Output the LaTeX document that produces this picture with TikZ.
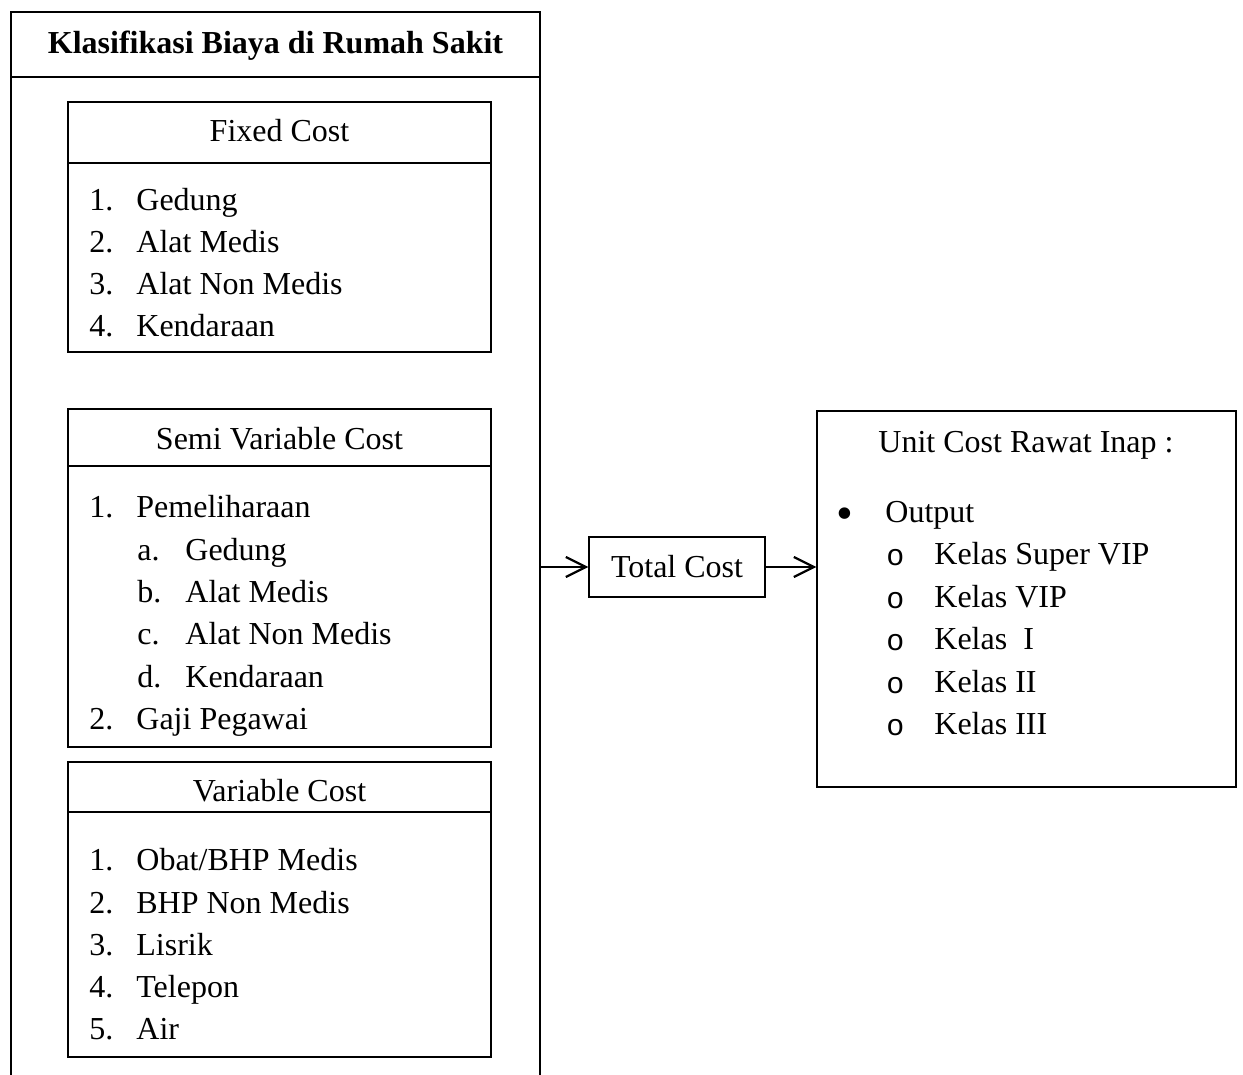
\documentclass[tikz,border=0pt]{standalone}
\usepackage{fontspec}
\setmainfont{Liberation Serif}
\newfontfamily\monofnt{Liberation Mono}
\usetikzlibrary{arrows.meta}
\newcommand\myfs{\fontsize{16pt}{19pt}\selectfont}
\begin{document}
\begin{tikzpicture}[x=0.5pt,y=-0.5pt,
  every node/.style={font=\myfs, inner sep=0pt},
  box/.style={draw, line width=0.75pt},
  item/.style={anchor=base west},
  ttl/.style={anchor=base},
  conn/.style={line width=1pt, -{Straight Barb[length=10pt,width=10pt,line width=1.1pt]}},
  sep/.style={line width=0.9pt},
  sub/.style={anchor=base west, font=\monofnt\fontsize{15pt}{17pt}\selectfont},
  bul/.style={anchor=base, font=\fontsize{24pt}{26pt}\selectfont}
]
\useasboundingbox (0,0) rectangle (1243,1075);
% outer classification frame
\draw[line width=0.75pt] (11,1075) -- (11,12) -- (540,12) -- (540,1075);
\draw[sep] (11,77) -- (540,77);
\node[ttl, font=\myfs\bfseries] (judul) at (275.5,54) {Klasifikasi Biaya di Rumah Sakit};

% Fixed cost
\node[box, minimum width=211.5pt, minimum height=125pt] (fixed) at (279.5,227) {};
\draw[sep] (68,163) -- (491,163);
\node[ttl] (fixedT) at (279.5,142) {Fixed Cost};
\node[item] (f1n) at (89,211) {1.};
\node[item] (f1) at (136,211) {Gedung};
\node[item] (f2n) at (89,253) {2.};
\node[item] (f2) at (136,253) {Alat Medis};
\node[item] (f3n) at (89,295) {3.};
\node[item] (f3) at (136,295) {Alat Non Medis};
\node[item] (f4n) at (89,337) {4.};
\node[item] (f4) at (136,337) {Kendaraan};

% Semi variable cost
\node[box, minimum width=211.5pt, minimum height=169pt] (semi) at (279.5,578) {};
\draw[sep] (68,466) -- (491,466);
\node[ttl] (semiT) at (279.5,449) {Semi Variable Cost};
\node[item] (s1n) at (89,517) {1.};
\node[item] (s1) at (136,517) {Pemeliharaan};
\node[item] (sa) at (137,560) {a.};
\node[item] (sat) at (185,560) {Gedung};
\node[item] (sb) at (137,602) {b.};
\node[item] (sbt) at (185,602) {Alat Medis};
\node[item] (sc) at (137,644) {c.};
\node[item] (sct) at (185,644) {Alat Non Medis};
\node[item] (sd) at (137,687) {d.};
\node[item] (sdt) at (185,687) {Kendaraan};
\node[item] (s2n) at (89,729) {2.};
\node[item] (s2) at (136,729) {Gaji Pegawai};

% Variable cost
\node[box, minimum width=211.5pt, minimum height=147.5pt] (var) at (279.5,909.5) {};
\draw[sep] (68,812) -- (491,812);
\node[ttl] (varT) at (279.5,801) {Variable Cost};
\node[item] (v1n) at (89,870) {1.};
\node[item] (v1) at (136,870) {Obat/BHP Medis};
\node[item] (v2n) at (89,913) {2.};
\node[item] (v2) at (136,913) {BHP Non Medis};
\node[item] (v3n) at (89,955) {3.};
\node[item] (v3) at (136,955) {Lisrik};
\node[item] (v4n) at (89,997) {4.};
\node[item] (v4) at (136,997) {Telepon};
\node[item] (v5n) at (89,1039) {5.};
\node[item] (v5) at (136,1039) {Air};

% Total cost
\node[box, minimum width=88pt, minimum height=30pt] (total) at (677,567) {};
\node[ttl] (totalT) at (677,577) {Total Cost};

% Unit cost
\node[box, minimum width=209.5pt, minimum height=188pt] (unit) at (1026.5,599) {};
\node[ttl] (unitT) at (1026,452) {Unit Cost Rawat Inap :};
\node[bul] (ub) at (845,529) {•};
\node[item] (uo) at (885,522) {Output};
\node[sub] (c1) at (886,565) {o};
\node[item] (k1) at (934,564) {Kelas Super VIP};
\node[sub] (c2) at (886,608) {o};
\node[item] (k2) at (934,607) {Kelas VIP};
\node[sub] (c3) at (886,650) {o};
\node[item] (k3) at (934,649) {Kelas\ \ I};
\node[sub] (c4) at (886,693) {o};
\node[item] (k4) at (934,692) {Kelas II};
\node[sub] (c5) at (886,735) {o};
\node[item] (k5) at (934,734) {Kelas III};

% connectors
\coordinate (klasR) at (540,567);
\draw[conn] (klasR) -- (total.west);
\draw[conn] (total.east) -- (total.east -| unit.west);
\end{tikzpicture}
\end{document}
